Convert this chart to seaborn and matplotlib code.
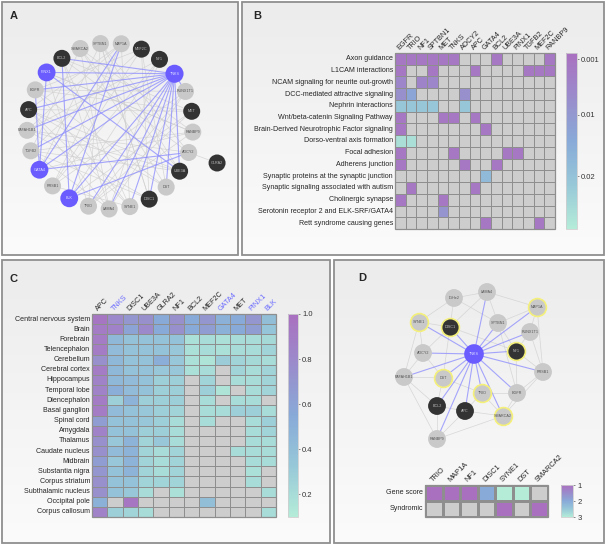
import numpy as np
import pandas as pd
import matplotlib
matplotlib.use("Agg")
import matplotlib.pyplot as plt
import seaborn as sns
from matplotlib.colors import LinearSegmentedColormap, ListedColormap
from matplotlib.patches import Rectangle

n = np.nan

# ---------------- panel B: pathway enrichment (p-values)
b_genes = ["EGFR", "TRIO", "NF1", "SPTBN1", "MET", "TNKS", "ADCY2", "APC", "GATA4",
           "BCL2", "UBE3A", "PINX1", "TGFB2", "MEF2C", "RANBP9"]
b_pathways = ["Axon guidance", "L1CAM interactions", "NCAM signaling for neurite out-growth",
              "DCC-mediated attractive signaling", "Nephrin interactions",
              "Wnt/beta-catenin Signaling Pathway", "Brain-Derived Neurotrophic Factor signaling",
              "Dorso-ventral axis formation", "Focal adhesion", "Adherens junction",
              "Synaptic proteins at the synaptic junction", "Synaptic signaling associated with autism",
              "Cholinergic synapse", "Serotonin receptor 2 and ELK-SRF/GATA4", "Rett syndrome causing genes"]
b_pvals = [
    [.002, .002, .002, .002, .002, .002, n, n, n, .002, n, n, n, n, .002],
    [.002, n, n, .002, n, n, n, .002, n, n, n, n, .002, .002, .002],
    [.006, n, .005, .006, n, n, n, n, n, n, n, n, n, n, n],
    [.008, .013, n, n, n, n, .008, n, n, n, n, n, n, n, n],
    [.021, .021, .021, .021, n, n, .021, n, n, n, n, n, n, n, n],
    [.002, n, n, n, .002, .002, n, .002, n, n, n, n, n, n, n],
    [.002, n, n, n, n, n, n, n, .002, n, n, n, n, n, n],
    [.026, .026, n, n, n, n, n, n, n, n, n, n, n, n, n],
    [.002, n, n, n, n, .002, n, n, n, n, .002, .002, n, n, n],
    [.002, n, n, n, n, n, .002, n, n, .002, n, n, n, n, n],
    [n, n, n, n, n, n, n, n, .018, n, n, n, n, n, n],
    [n, .002, n, n, n, n, n, .002, n, n, n, n, n, n, n],
    [.002, n, n, n, .002, n, n, n, n, n, n, n, n, n, n],
    [n, n, n, n, .009, n, n, n, n, n, n, n, n, n, n],
    [n, n, n, n, n, n, n, n, .002, n, n, n, n, .002, n],
]

# ---------------- panel C: brain region expression
c_genes = ["APC", "TNKS", "DISC1", "UBE3A", "GLRA2", "NF1", "BCL2", "MEF2C", "GATA4", "MET", "PINX1", "BLK"]
c_blue_genes = ["TNKS", "GATA4", "PINX1", "BLK"]
c_regions = ["Central nervous system", "Brain", "Forebrain", "Telencephalon", "Cerebellum",
             "Cerebral cortex", "Hippocampus", "Temporal lobe", "Diencephalon", "Basal ganglion",
             "Spinal cord", "Amygdala", "Thalamus", "Caudate nucleus", "Midbrain",
             "Substantia nigra", "Corpus striatum", "Subthalamic nucleus", "Occipital pole",
             "Corpus callosum"]
c_values = [
    [.95, .80, .70, .75, .55, .75, .55, .70, .50, .55, .70, .40],
    [.90, .85, .60, .80, .55, .75, .55, .65, .50, .55, .65, .35],
    [.90, .45, .37, .37, .37, .37, .18, .20, .18, .20, .20, .22],
    [.90, .42, .37, .37, .37, .33, .18, .20, .18, .20, .20, .25],
    [.75, .45, .37, .37, .52, .33, .18, .15, .30, .25, .22, .20],
    [.90, .45, .37, .37, .33, .33, .18, .20, n, .25, .20, .25],
    [.85, .45, .42, .37, .28, .28, n, .25, n, .20, .20, .25],
    [.85, .52, .42, .37, .28, .28, n, .28, .15, n, .20, .25],
    [.90, .28, .48, .28, .28, .28, n, .20, n, .20, .20, n],
    [.90, .42, .37, .33, .28, .25, n, .20, .20, .28, .28, .20],
    [.65, .37, .37, .33, .28, .20, n, .20, n, n, .20, .28],
    [.85, .37, .37, .28, .28, .20, n, n, n, n, .20, .25],
    [.75, .33, .48, .25, .33, .20, n, n, n, n, .20, .20],
    [.75, .42, .48, .25, .20, .25, n, n, n, .20, .20, .20],
    [.65, .33, .48, .25, .20, .25, n, n, n, n, .20, .20],
    [.70, .37, .48, .25, .20, .25, n, n, n, n, .18, n],
    [.75, .37, .37, .25, .25, .25, n, n, n, n, .20, n],
    [.75, .37, .33, .20, n, .18, n, n, n, n, n, .20],
    [.50, n, .95, n, n, n, n, .40, n, n, n, n],
    [.85, .28, .25, .20, n, n, n, n, n, n, n, .20],
]

# ---------------- panel D: gene score / syndromic
d_genes = ["TRIO", "MAP1A", "NF1", "DISC1", "SYNE1", "DST", "SMARCA2"]
d_rows = ["Gene score", "Syndromic"]
d_scores = [
    [1, 1, 1, 2, 3, 3, n],
    [n, n, n, n, 1, n, 1],
]

# ---------------- panel A network (circular ring, clockwise from top-left)
a_ring = ["SMARCA2", "SPTBN1", "MAP1A", "MEF2C", "NF1", "TNKS", "RUNX1T1", "MET", "RANBP9",
          "ADCY2", "UBE3A", "DST", "DISC1", "SYNE1", "LAMA4", "TRIO", "BLK", "RRSB1", "GATA4",
          "TGFB2", "PAFAH1B1", "APC", "EGFR", "PINX1", "BCL2"]
a_outside = ["GLRA2"]
a_dark = ["MEF2C", "NF1", "MET", "UBE3A", "DISC1", "APC", "BCL2", "GLRA2"]
a_blue = ["TNKS", "PINX1", "GATA4", "BLK"]
a_blue_edges = [("TNKS", g) for g in ["BCL2", "PINX1", "EGFR", "APC", "PAFAH1B1", "TGFB2", "GATA4",
                                      "BLK", "TRIO", "LAMA4", "SYNE1", "DISC1", "DST", "UBE3A", "RUNX1T1"]] + [
    ("MAP1A", "BLK"), ("BCL2", "BLK"), ("PINX1", "UBE3A"), ("GATA4", "ADCY2"),
    ("BLK", "ADCY2"), ("EGFR", "GATA4"), ("PINX1", "GATA4"), ("MAP1A", "GATA4")]
a_gray_edges = [
    ("SMARCA2", "DST"), ("SMARCA2", "LAMA4"), ("SPTBN1", "TRIO"), ("SPTBN1", "UBE3A"),
    ("MAP1A", "SYNE1"), ("MAP1A", "APC"), ("MEF2C", "TGFB2"), ("MEF2C", "DISC1"),
    ("NF1", "PAFAH1B1"), ("NF1", "RRSB1"), ("RUNX1T1", "EGFR"), ("RUNX1T1", "TRIO"),
    ("MET", "APC"), ("MET", "BLK"), ("RANBP9", "PINX1"), ("RANBP9", "GATA4"),
    ("ADCY2", "BCL2"), ("ADCY2", "SPTBN1"), ("UBE3A", "SMARCA2"), ("UBE3A", "TGFB2"),
    ("DST", "EGFR"), ("DST", "MEF2C"), ("DISC1", "PAFAH1B1"), ("DISC1", "SPTBN1"),
    ("SYNE1", "BCL2"), ("SYNE1", "RRSB1"), ("LAMA4", "APC"), ("LAMA4", "NF1"),
    ("TRIO", "PINX1"), ("TRIO", "MET"), ("RRSB1", "RUNX1T1"), ("RRSB1", "MAP1A"),
    ("TGFB2", "RANBP9"), ("TGFB2", "SMARCA2"), ("PAFAH1B1", "ADCY2"), ("APC", "DST"),
    ("EGFR", "SYNE1"), ("EGFR", "MEF2C"), ("BCL2", "MET"), ("BCL2", "LAMA4"),
    ("GATA4", "SPTBN1"), ("BLK", "NF1"), ("PINX1", "RANBP9"), ("APC", "UBE3A"),
    ("ADCY2", "GLRA2"), ("DISC1", "TGFB2"), ("RUNX1T1", "LAMA4"), ("MAP1A", "PAFAH1B1"),
    ("SMARCA2", "RANBP9"), ("SPTBN1", "DISC1"), ("MEF2C", "RRSB1"), ("MET", "EGFR"),
    ("RANBP9", "TRIO"), ("UBE3A", "PAFAH1B1"), ("SYNE1", "APC"), ("LAMA4", "TGFB2")]

# ---------------- panel D network (hub and spokes around TNKS)
d_net_nodes = ["TNKS", "IGHe2", "LAMA4", "MAP1A", "SYNE1", "DISC1", "SPTBN1", "RUNX1T1", "ADCY2",
               "NF1", "PAFAH1B1", "RRSB1", "DST", "TRIO", "EGFR", "BCL2", "APC", "SMARCA2", "RANBP9"]
d_dark = ["DISC1", "NF1", "BCL2", "APC"]
d_ringed = ["MAP1A", "SYNE1", "DISC1", "NF1", "DST", "TRIO", "SMARCA2"]
d_blue_edges = [("TNKS", g) for g in d_net_nodes[2:]]
d_gray_edges = [
    ("IGHe2", "LAMA4"), ("IGHe2", "SYNE1"), ("IGHe2", "DISC1"), ("IGHe2", "SPTBN1"),
    ("LAMA4", "MAP1A"), ("LAMA4", "SPTBN1"), ("LAMA4", "DISC1"), ("MAP1A", "RUNX1T1"),
    ("MAP1A", "SPTBN1"), ("SYNE1", "ADCY2"), ("SYNE1", "PAFAH1B1"), ("SYNE1", "DISC1"),
    ("DISC1", "ADCY2"), ("DISC1", "DST"), ("SPTBN1", "NF1"), ("RUNX1T1", "NF1"),
    ("RUNX1T1", "RRSB1"), ("NF1", "RRSB1"), ("NF1", "EGFR"), ("ADCY2", "PAFAH1B1"),
    ("ADCY2", "DST"), ("PAFAH1B1", "DST"), ("PAFAH1B1", "BCL2"), ("PAFAH1B1", "RANBP9"),
    ("RRSB1", "EGFR"), ("RRSB1", "SMARCA2"), ("DST", "BCL2"), ("DST", "TRIO"),
    ("TRIO", "APC"), ("TRIO", "EGFR"), ("TRIO", "SMARCA2"), ("EGFR", "SMARCA2"),
    ("BCL2", "APC"), ("BCL2", "RANBP9"), ("APC", "SMARCA2"), ("APC", "RANBP9"),
    ("SMARCA2", "RANBP9"), ("SPTBN1", "EGFR"), ("DISC1", "NF1"), ("MAP1A", "RRSB1")]

# layout of panel D network (offsets from hub, px, y downwards)
d_layout = {
    "TNKS": (0, 0), "IGHe2": (-20, -56), "LAMA4": (13, -62), "MAP1A": (63, -47),
    "SYNE1": (-55, -32), "DISC1": (-24, -27), "SPTBN1": (24, -31), "RUNX1T1": (56, -22),
    "ADCY2": (-51, -1), "NF1": (42, -3), "PAFAH1B1": (-70, 23), "RRSB1": (69, 18),
    "DST": (-31, 24), "TRIO": (8, 39), "EGFR": (43, 39), "BCL2": (-37, 52),
    "APC": (-9, 57), "SMARCA2": (29, 62), "RANBP9": (-37, 85)}

# ======================================================================
W, H = 606, 545
sns.set_style("white")
plt.rcParams["font.family"] = ["Liberation Sans", "DejaVu Sans"]

fig = plt.figure(figsize=(W / 100, H / 100), dpi=100)
fig.patch.set_facecolor("white")

ov = fig.add_axes([0, 0, 1, 1])
ov.set_xlim(0, W)
ov.set_ylim(H, 0)
ov.axis("off")


def px_axes(x0, y0, x1, y1):
    return fig.add_axes([x0 / W, 1 - y1 / H, (x1 - x0) / W, (y1 - y0) / H])


# panel frames with soft gradient
grad = np.linspace(0, 1, 100).reshape(-1, 1)
bg_cmap = LinearSegmentedColormap.from_list("bg", ["#ececec", "#fbfbfb"])
panels = {"A": (2, 2, 238, 255), "B": (242, 2, 604, 255), "C": (2, 260, 330, 543), "D": (334, 260, 604, 543)}
letters = {"A": (14, 16), "B": (257, 16), "C": (14, 279), "D": (362, 278)}
for key, (x0, y0, x1, y1) in panels.items():
    ov.imshow(grad, extent=(x0, x1, y1, y0), cmap=bg_cmap, aspect="auto", zorder=0)
    ov.add_patch(Rectangle((x0, y0), x1 - x0, y1 - y0, fill=False, ec="#8f8f8f", lw=1.3, zorder=1))
    lx, ly = letters[key]
    ov.text(lx, ly, key, fontsize=8, fontweight="bold", ha="center", va="center", zorder=5)
ov.set_xlim(0, W)
ov.set_ylim(H, 0)

node_fc = {"gray": "#c9c9c9", "dark": "#333333", "blue": "#6a5cff"}
node_tc = {"gray": "#555555", "dark": "#bbbbbb", "blue": "#e0e0ff"}


def draw_network(pos, kinds, gray_edges, blue_edges, sizes, ringed=()):
    for a, b in gray_edges:
        ov.plot([pos[a][0], pos[b][0]], [pos[a][1], pos[b][1]], color="#cfcfcf", lw=0.5, alpha=0.8, zorder=2)
    for a, b in blue_edges:
        ov.plot([pos[a][0], pos[b][0]], [pos[a][1], pos[b][1]], color="#8a8aff", lw=0.8, alpha=0.75, zorder=3)
    for name, (x, y) in pos.items():
        k = kinds[name]
        ec = "#f4f07a" if name in ringed else "none"
        ov.scatter([x], [y], s=sizes.get(name, sizes["default"]), c=node_fc[k], edgecolors=ec,
                   linewidths=1.2, zorder=4)
        ov.text(x, y, name, fontsize=2.7, color=node_tc[k], ha="center", va="center", zorder=5)


# ---- panel A network
cx, cy, rad = 110, 126, 83
ang = np.deg2rad(111 - 360 / len(a_ring) * np.arange(len(a_ring)))
pos_a = {g: (cx + rad * np.cos(t), cy - rad * np.sin(t)) for g, t in zip(a_ring, ang)}
pos_a["GLRA2"] = (cx + rad * 1.29, cy + 37)
kinds_a = {g: ("blue" if g in a_blue else "dark" if g in a_dark else "gray") for g in pos_a}
sizes_a = {"default": 150, "TNKS": 170, "PINX1": 165, "GATA4": 165, "BLK": 165}
draw_network(pos_a, kinds_a, a_gray_edges, a_blue_edges, sizes_a)

# ---- panel D network
hx, hy = 474, 354
pos_d = {g: (hx + d_layout[g][0], hy + d_layout[g][1]) for g in d_net_nodes}
kinds_d = {g: ("blue" if g == "TNKS" else "dark" if g in d_dark else "gray") for g in pos_d}
sizes_d = {"default": 165, "TNKS": 200}
draw_network(pos_d, kinds_d, d_gray_edges, d_blue_edges, sizes_d, ringed=d_ringed)

# ---- colormaps
hm_cmap = LinearSegmentedColormap.from_list("hm", ["#b4ecd8", "#97c8d8", "#88aad8", "#9a8ccc", "#aa70c0"])
hm_cmap_r = hm_cmap.reversed()
grid_col = "#8e8e8e"
nan_col = "#cdcdcd"


def grid_heatmap(ax, cax, df, cmap, vmin, vmax, lw=0.6):
    sns.heatmap(df.isna().astype(float) * 0, ax=ax, cmap=ListedColormap([nan_col]), vmin=0, vmax=1,
                cbar=False, linewidths=lw, linecolor=grid_col, xticklabels=True, yticklabels=True)
    sns.heatmap(df, ax=ax, cmap=cmap, vmin=vmin, vmax=vmax, cbar_ax=cax, linewidths=lw, linecolor=grid_col,
                xticklabels=True, yticklabels=True)
    ax.add_patch(Rectangle((0, 0), df.shape[1], df.shape[0], fill=False, ec=grid_col, lw=0.9, clip_on=False))
    ax.set_xlabel("")
    ax.set_ylabel("")
    ax.xaxis.tick_top()
    ax.tick_params(length=0, pad=1.5)
    cbar = ax.collections[-1].colorbar
    cbar.outline.set_edgecolor("#cfcfcf")
    cbar.outline.set_linewidth(0.6)
    cax.tick_params(labelsize=5.5, length=1.5, width=0.4, pad=1.5, colors="#333333")
    return cbar


# ---- panel B heatmap
df_b = pd.DataFrame(b_pvals, index=b_pathways, columns=b_genes)
ax_b = px_axes(395, 53, 555, 229)
cax_b = px_axes(566, 53, 577, 229)
cb_b = grid_heatmap(ax_b, cax_b, df_b, hm_cmap_r, 0.0, 0.0286)
cb_b.set_ticks([0.001, 0.01, 0.02])
cb_b.set_ticklabels(["0.001", "0.01", "0.02"])
cax_b.invert_yaxis()
ax_b.set_xticklabels(b_genes, rotation=45, ha="left", rotation_mode="anchor", fontsize=5.2)
ax_b.set_yticklabels(b_pathways, rotation=0, fontsize=5.1)

# ---- panel C heatmap
df_c = pd.DataFrame(c_values, index=c_regions, columns=c_genes)
ax_c = px_axes(92, 314, 276, 517)
cax_c = px_axes(288, 314, 298, 517)
cb_c = grid_heatmap(ax_c, cax_c, df_c, hm_cmap, 0.1, 1.0)
cb_c.set_ticks([0.2, 0.4, 0.6, 0.8, 1.0])
cb_c.set_ticklabels(["0.2", "0.4", "0.6", "0.8", "1.0"])
ax_c.set_xticklabels(c_genes, rotation=45, ha="left", rotation_mode="anchor", fontsize=5.2)
for lab in ax_c.get_xticklabels():
    if lab.get_text() in c_blue_genes:
        lab.set_color("#6a6aff")
ax_c.set_yticklabels(c_regions, rotation=0, fontsize=5.1)

# ---- panel D heatmap
df_d = pd.DataFrame(d_scores, index=d_rows, columns=d_genes)
ax_d = px_axes(425, 485, 548, 517)
cax_d = px_axes(561, 485, 573, 517)
cb_d = grid_heatmap(ax_d, cax_d, df_d, hm_cmap_r, 1, 3, lw=0.8)
cb_d.set_ticks([1, 2, 3])
cb_d.set_ticklabels(["1", "2", "3"])
cax_d.invert_yaxis()
ax_d.set_xticklabels(d_genes, rotation=45, ha="left", rotation_mode="anchor", fontsize=5.3)
ax_d.set_yticklabels(d_rows, rotation=0, fontsize=5.1)

fig.savefig("out.png", dpi=100)
